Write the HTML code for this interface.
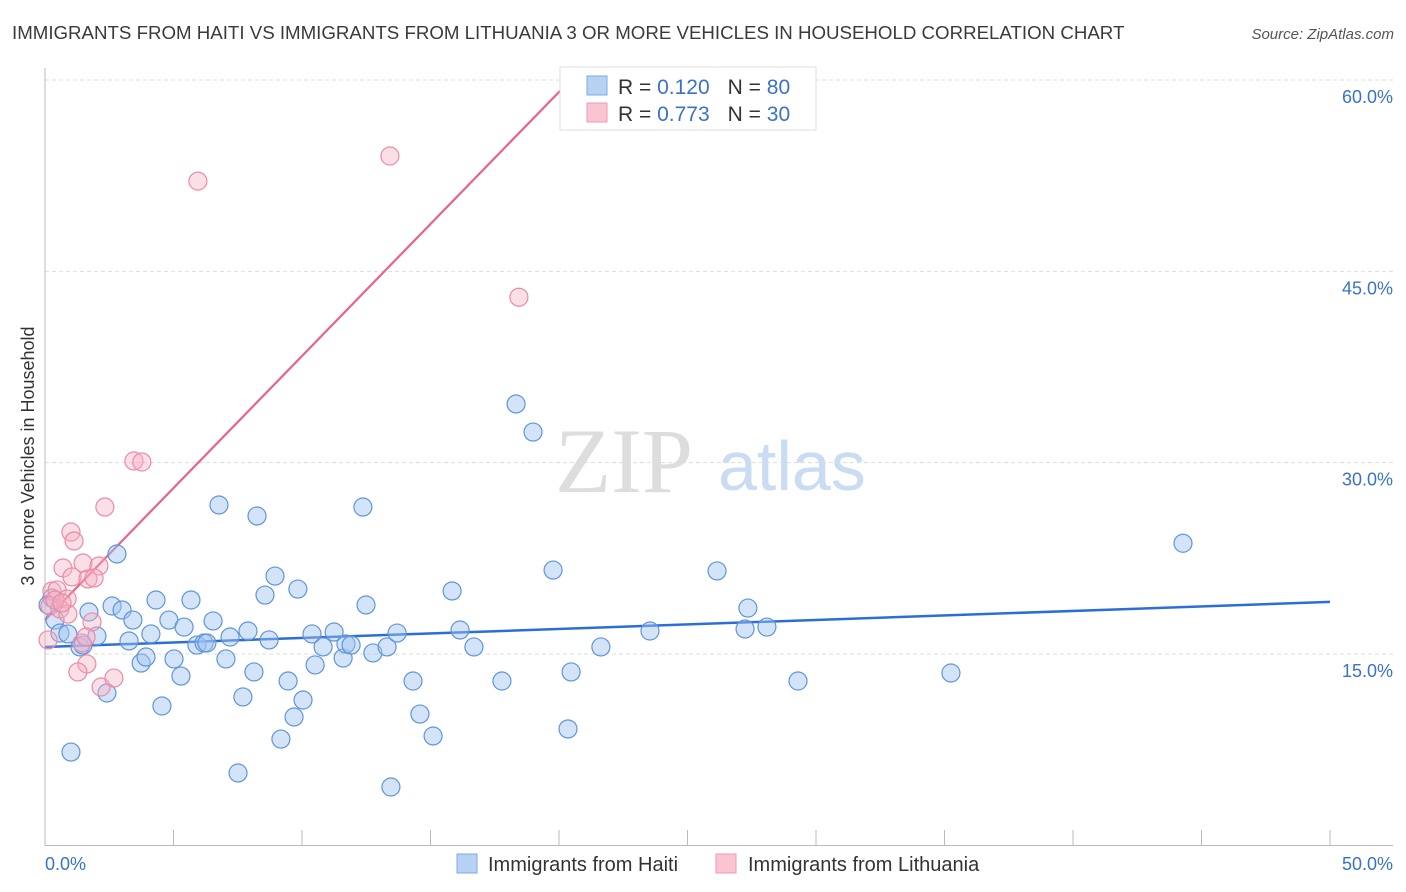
<!DOCTYPE html>
<html><head><meta charset="utf-8"><style>
body{margin:0;background:#fff;font-family:"Liberation Sans",sans-serif}
svg{display:block}
</style></head><body>
<svg width="1406" height="892" xmlns="http://www.w3.org/2000/svg" id="chart">
<text x="12" y="39" font-size="18.7" fill="#3a3a3a">IMMIGRANTS FROM HAITI VS IMMIGRANTS FROM LITHUANIA 3 OR MORE VEHICLES IN HOUSEHOLD CORRELATION CHART</text>
<text x="1394" y="39" font-size="15" fill="#555" text-anchor="end" font-style="italic">Source: ZipAtlas.com</text>
<text transform="translate(34,456) rotate(-90)" font-size="18" fill="#333" text-anchor="middle">3 or more Vehicles in Household</text>
<g>
<text x="555" y="492" font-size="92" fill="#ddd" font-family="Liberation Serif,serif">ZIP</text>
<text x="718" y="490" font-size="70" fill="#c9dcf3">atlas</text>
</g>
<g id="grid"></g><g id="axes"></g><g id="lines"></g><g id="pts"></g>
<g>
<rect x="560" y="67" width="256" height="63" fill="#fff" stroke="#ddd"/>
<rect x="587" y="76" width="20" height="19" fill="#b7d1f4" stroke="#7fa9e0"/>
<text x="618" y="94" font-size="21" fill="#333">R = <tspan fill="#3a72c8">0.120</tspan><tspan dx="18">N = </tspan><tspan fill="#3a72c8">80</tspan></text>
<rect x="587" y="103" width="20" height="19" fill="#f9c5d3" stroke="#ee9ab2"/>
<text x="618" y="121" font-size="21" fill="#333">R = <tspan fill="#3a72c8">0.773</tspan><tspan dx="18">N = </tspan><tspan fill="#3a72c8">30</tspan></text>
</g>
<g>
<rect x="457" y="854" width="20" height="19" fill="#b7d1f4" stroke="#7fa9e0"/>
<text x="488" y="871" font-size="20" fill="#333">Immigrants from Haiti</text>
<rect x="716" y="854" width="20" height="19" fill="#f9c5d3" stroke="#ee9ab2"/>
<text x="748" y="871" font-size="20" fill="#333">Immigrants from Lithuania</text>
</g>
</svg>
<script>
const yTicks=[15,30,45,60];
const yTickLabels=["15.0%","30.0%","45.0%","60.0%"];
const xTickCount=10;
const haitiX=[1.01,2.41,2.80,1.71,2.02,1.36,1.48,2.61,3.00,3.27,3.42,3.74,3.93,4.12,4.32,4.55,4.82,5.02,5.29,5.41,5.68,5.91,6.19,6.30,6.54,6.77,7.04,7.20,7.51,7.70,7.90,8.13,8.25,8.56,8.72,8.95,9.46,9.69,9.84,10.04,9.18,10.39,10.51,10.82,11.25,11.60,11.71,11.91,12.37,12.49,12.76,13.31,13.46,13.70,14.32,14.59,15.10,15.84,16.15,16.69,17.78,18.33,18.99,19.77,20.35,20.47,21.63,23.54,26.15,27.24,27.35,28.09,29.30,35.25,44.28,0.27,0.39,0.58,0.12,0.89];
const haitiY=[7.31,11.94,22.84,18.29,16.41,15.55,15.70,18.76,18.45,16.02,17.66,14.29,14.76,16.57,19.23,10.92,17.66,14.61,13.27,17.11,19.23,15.70,15.86,15.86,17.59,26.68,14.61,16.33,5.67,11.63,16.80,13.59,25.82,19.62,16.10,21.11,12.88,10.06,20.09,11.39,8.33,16.57,14.14,15.55,16.72,14.68,15.78,15.70,26.52,18.84,15.08,15.55,4.57,16.64,12.88,10.29,8.57,19.94,16.88,15.55,12.88,34.60,32.40,21.58,9.12,13.59,15.55,16.80,21.51,16.96,18.60,17.11,12.88,13.51,23.68,19.39,17.66,16.64,18.84,16.57];
const lithX=[5.95,13.42,18.44,3.46,3.77,2.33,1.01,1.13,0.70,1.48,2.10,1.05,1.67,1.91,0.27,0.47,0.86,0.19,0.58,0.89,1.83,1.44,1.63,1.28,2.18,2.68,0.12,0.39,0.66,1.60];
const lithY=[52.07,54.04,42.97,30.13,30.05,26.52,24.56,23.86,21.74,22.13,21.90,21.04,20.88,20.96,19.94,20.02,19.31,18.76,18.53,18.13,17.51,15.86,14.22,13.59,12.41,13.11,16.10,19.23,19.00,16.33];
const haitiTrend=[15.55,19.08];
const lithTrend=[17.66,2.07];
const X0=45,X1=1330,Y0=845.3,PX=25.7,PY=12.755;
const sx=v=>X0+v*PX, sy=v=>Y0-v*PY;
const NS="http://www.w3.org/2000/svg";
function mk(tag,attrs,parent){const e=document.createElementNS(NS,tag);for(const k in attrs)e.setAttribute(k,attrs[k]);document.getElementById(parent).appendChild(e);return e;}
yTicks.forEach((t,i)=>{
 const g=mk('line',{x1:X0,x2:1393,y1:sy(t),y2:sy(t),stroke:'#ddd','stroke-dasharray':'4,3'},'grid');
 
 
 const l=mk('text',{x:1393,y:sy(t)+23,'font-size':18,fill:'#3a72c8','text-anchor':'end'},'grid');
 l.textContent=yTickLabels[i];
 
 
});
const ax=mk('line',{x1:X0,x2:X0,y1:68,y2:846,stroke:'#bbb'},'axes');


const bx=mk('line',{x1:X0,x2:1393,y1:845.5,y2:845.5,stroke:'#bbb'},'axes');


for(let i=0;i<=xTickCount;i++){
 const t=mk('line',{x1:sx(i*5),x2:sx(i*5),y1:830,y2:846,stroke:'#bbb'},'axes');
 
 
}
const xl0=mk('text',{x:45,y:870,'font-size':18,fill:'#3a72c8'},'axes');xl0.textContent='0.0%';


const xl1=mk('text',{x:1393,y:870,'font-size':18,fill:'#3a72c8','text-anchor':'end'},'axes');xl1.textContent='50.0%';


haitiX.forEach((x,i)=>{
 const c=mk('circle',{cx:sx(x),cy:sy(haitiY[i]),r:9,fill:'rgba(160,196,240,0.45)',stroke:'#5f95da','stroke-width':1.2},'pts');
 
 
});
lithX.forEach((x,i)=>{
 const c=mk('circle',{cx:sx(x),cy:sy(lithY[i]),r:9,fill:'rgba(246,175,195,0.4)',stroke:'#ec8aa6','stroke-width':1.2},'pts');
 
 
});
const hl=mk('line',{x1:sx(0),y1:sy(haitiTrend[0]),x2:sx(50),y2:sy(haitiTrend[1]),stroke:'#2b6fd6','stroke-width':2.5},'lines');


const xe=(59.6-lithTrend[0])/lithTrend[1];
const ll=mk('line',{x1:sx(0),y1:sy(lithTrend[0]),x2:sx(xe),y2:sy(lithTrend[0]+lithTrend[1]*xe),stroke:'#e8628c','stroke-width':2.2},'lines');


</script>
</body></html>
